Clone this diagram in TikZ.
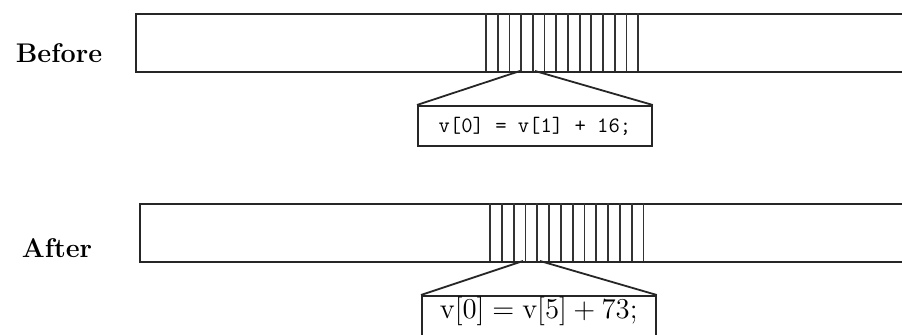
\documentclass[tikz,border=0pt]{standalone}
\usepackage{tikz}
\usetikzlibrary{calc, positioning}

\begin{document}
\begin{tikzpicture}[
  x=0.5pt, y=-0.5pt,
  tag/.style={font=\fontsize{13.5}{16}\selectfont\bfseries},
  bar/.style={draw=black!85, line width=1pt, anchor=north west,
              minimum width=387.5pt, minimum height=29pt, inner sep=0pt},
  stripe/.style={draw=black!80, line width=0.9pt},
  codebox/.style={draw=black!85, line width=0.9pt, anchor=north west,
                  minimum width=117pt, inner xsep=0pt, inner ysep=0pt},
  funnel/.style={draw=black!85, line width=0.9pt}
]
\useasboundingbox (0,0) rectangle (902,335);

% --- Labels ---
\node[tag] (before) at (59,53) {Before};
\node[tag] (after) at (57,248) {After};

% --- Memory bars ---
\node[bar] (top) at (135,13) {};
\node[bar] (bot) at (139,203) {};

% --- Changed region (stripes) ---
\foreach \i in {0,...,13} {
  \draw[stripe] (486+\i*11.7,13) -- (486+\i*11.7,71);
  \draw[stripe] (490+\i*11.8,203) -- (490+\i*11.8,261);
}

% --- Instruction boxes ---
\node[codebox, text height=13.5pt, text depth=6.5pt] (code1) at (417,105)
  {\fontsize{11}{13}\selectfont\ttfamily v[0] = v[1] + 16;};
\node[codebox, text height=11.5pt, text depth=11pt] (code2) at (421,295)
  {\fontsize{14.5}{16}\selectfont $\mathrm{v}[0] = \mathrm{v}[5] + 73;$};

% --- Funnels ---
\coordinate (a1) at (520,71);
\coordinate (b1) at (535,71);
\coordinate (a2) at (523,261);
\coordinate (b2) at (540,261);
\draw[funnel] (code1.north west) -- (a1);
\draw[funnel] (code1.north east) -- (b1);
\draw[funnel] (code2.north west) -- (a2);
\draw[funnel] (code2.north east) -- (b2);

\end{tikzpicture}
\end{document}
